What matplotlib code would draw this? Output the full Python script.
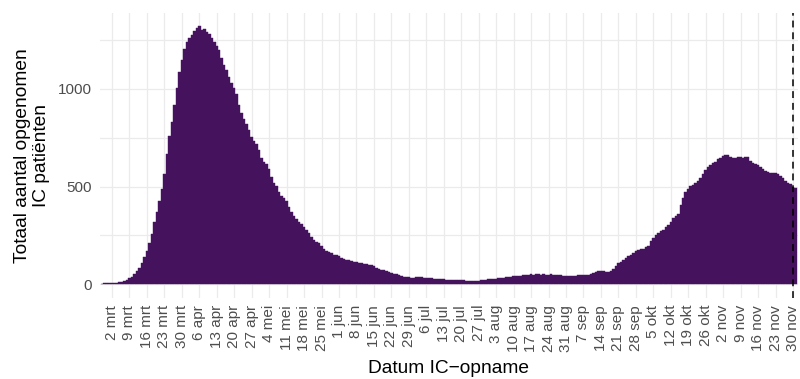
import datetime as dt
import matplotlib
matplotlib.use("Agg")
import matplotlib.pyplot as plt
import matplotlib.dates as mdates
from matplotlib.ticker import MultipleLocator

plt.rcParams['font.family'] = ['Liberation Sans', 'DejaVu Sans']

# Daily number of IC patients, per month (2020), starting 27 Feb
feb = [4, 5, 5]
mrt = [6, 7, 8, 9, 11, 14, 18, 24, 31, 40, 52, 67, 86, 108, 138, 172, 210, 255,
       318, 370, 425, 490, 565, 665, 760, 832, 915, 1005, 1085, 1150, 1205]
apr = [1240, 1258, 1275, 1298, 1312, 1322, 1300, 1305, 1292, 1280, 1262, 1240,
       1220, 1198, 1160, 1120, 1095, 1060, 1030, 1005, 975, 915, 875, 845, 822,
       790, 755, 735, 718, 685]
mei = [645, 628, 615, 590, 548, 520, 505, 470, 452, 440, 428, 395, 368, 352, 335,
       320, 308, 292, 278, 262, 240, 225, 215, 210, 195, 182, 172, 166, 158, 152, 148]
jun = [144, 136, 130, 126, 123, 120, 116, 113, 110, 108, 106, 105, 100, 97, 92,
       85, 80, 75, 71, 67, 64, 60, 55, 51, 47, 43, 40, 37, 35, 34]
jul = [34, 35, 36, 35, 34, 33, 31, 30, 29, 28, 27, 26, 25, 24, 24, 23, 22, 22,
       21, 21, 20, 19, 18, 18, 17, 18, 19, 20, 22, 23, 25]
aug = [26, 27, 29, 31, 33, 34, 36, 38, 39, 41, 42, 44, 45, 47, 50, 48, 52, 49,
       51, 53, 50, 52, 50, 49, 51, 50, 48, 47, 46, 45, 44]
sep = [42, 43, 44, 45, 46, 46, 46, 47, 50, 54, 58, 62, 66, 68, 66, 64, 63, 70,
       80, 95, 108, 116, 124, 135, 145, 152, 162, 170, 176, 180]
okt = [183, 190, 198, 220, 238, 250, 262, 272, 280, 292, 305, 318, 338, 352, 362,
       405, 440, 470, 490, 503, 510, 518, 528, 545, 565, 585, 598, 612, 620, 628, 640]
nov = [648, 656, 662, 660, 652, 646, 648, 652, 650, 645, 650, 652, 630, 622, 618,
       608, 600, 588, 580, 574, 570, 568, 568, 562, 555, 545, 530, 520, 512, 500]
dec = [495]

start_date = dt.date(2020, 2, 27)
values = feb + mrt + apr + mei + jun + jul + aug + sep + okt + nov + dec
dates = [start_date + dt.timedelta(days=i) for i in range(len(values))]

month_names = ['jan', 'feb', 'mrt', 'apr', 'mei', 'jun', 'jul', 'aug', 'sep',
               'okt', 'nov', 'dec']
first_tick = dt.date(2020, 3, 2)
n_ticks = 40
tick_dates = [first_tick + dt.timedelta(weeks=i) for i in range(n_ticks)]
tick_labels = [f"{d.day} {month_names[d.month - 1]}" for d in tick_dates]
cutoff_date = dt.date(2020, 11, 30)

bar_color = '#45135d'
grid_color = '#EBEBEB'
tick_color = '#4D4D4D'

fig = plt.figure(figsize=(8.0, 3.79), dpi=100)
ax = fig.add_axes([0.125, 0.2137, 0.8725, 0.752])

ax.bar(dates, values, width=1.0, color=bar_color, edgecolor=bar_color,
       linewidth=0.3, zorder=2)
ax.axvline(cutoff_date, color='black', linestyle=(0, (4.5, 3.2)),
           linewidth=1.1, zorder=3)

x0 = mdates.date2num(first_tick)
ax.set_xlim(x0 - 4.8, x0 + 275.0)
ax.set_ylim(-70, 1388)

ax.set_xticks(tick_dates)
ax.set_xticklabels(tick_labels, rotation=90, ha='right', va='center',
                   rotation_mode='anchor')
ax.yaxis.set_major_locator(MultipleLocator(500))
ax.yaxis.set_minor_locator(MultipleLocator(250))
ax.tick_params(axis='both', which='both', length=0, labelsize=11,
               labelcolor=tick_color)
ax.tick_params(axis='x', pad=5)
ax.tick_params(axis='y', pad=6)

ax.grid(True, which='major', color=grid_color, linewidth=0.9, zorder=0)
ax.grid(True, which='minor', axis='y', color=grid_color, linewidth=0.9, zorder=0)
ax.set_axisbelow(True)
for s in ax.spines.values():
    s.set_visible(False)

ax.set_xlabel('Datum IC\u2212opname', fontsize=13.8, color='black', labelpad=6)
ax.set_ylabel('Totaal aantal opgenomen\nIC patiënten', fontsize=13.8,
              color='black', labelpad=5.5, linespacing=1.13)

fig.savefig('out.png', dpi=100)
